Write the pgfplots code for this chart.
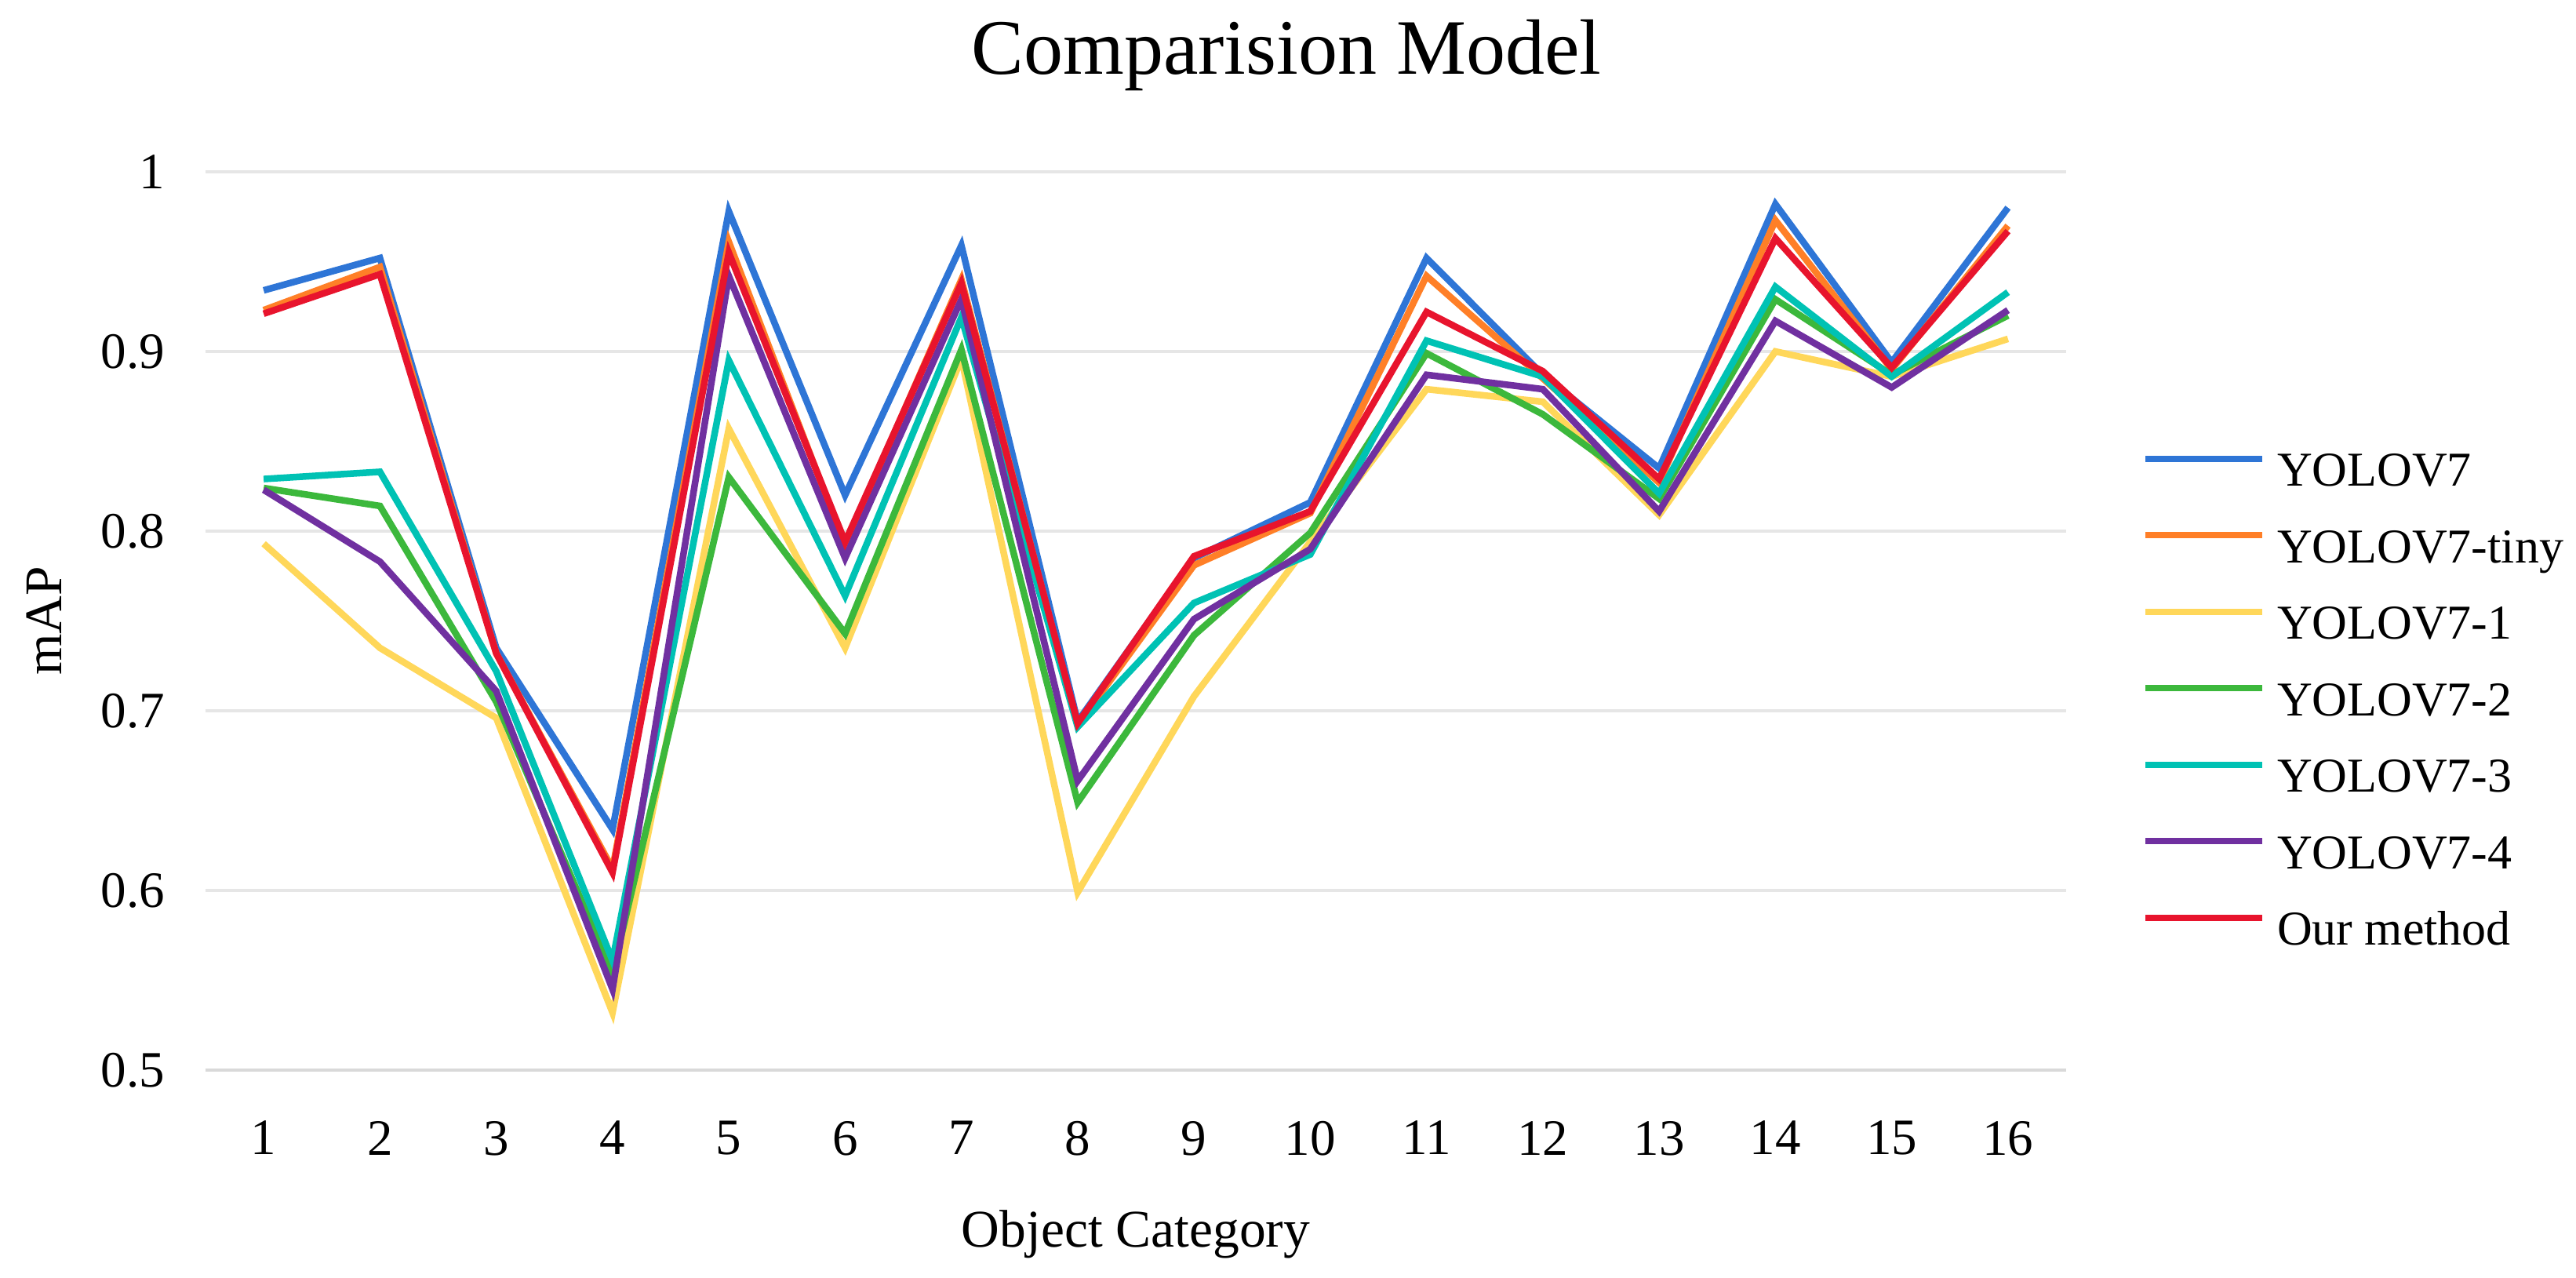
\documentclass[border=0pt]{standalone}
\usepackage{fontspec}
\setmainfont{Liberation Serif}
\usepackage{pgfplots}
\pgfplotsset{compat=1.18}
\usepackage{pgfplotstable}

\definecolor{cBlue}{HTML}{2E75D6}
\definecolor{cOrange}{HTML}{FF7F27}
\definecolor{cYellow}{HTML}{FFD75A}
\definecolor{cGreen}{HTML}{3CB83C}
\definecolor{cCyan}{HTML}{00C2B4}
\definecolor{cPurple}{HTML}{7030A0}
\definecolor{cRed}{HTML}{E8142D}
\definecolor{gridgray}{HTML}{E6E6E6}
\definecolor{axisgray}{HTML}{D9D9D9}

% mAP per object category
\pgfplotstableread{
cat  v7     tiny   v1     v2     v3     v4     ours
1    0.934  0.923  0.793  0.824  0.829  0.823  0.921
2    0.952  0.947  0.735  0.814  0.833  0.783  0.943
3    0.735  0.732  0.696  0.705  0.722  0.711  0.732
4    0.634  0.612  0.532  0.554  0.561  0.545  0.610
5    0.978  0.961  0.857  0.830  0.895  0.942  0.955
6    0.820  0.792  0.735  0.743  0.764  0.785  0.794
7    0.959  0.940  0.896  0.901  0.919  0.929  0.938
8    0.694  0.692  0.599  0.649  0.691  0.661  0.693
9    0.785  0.781  0.708  0.742  0.760  0.751  0.786
10   0.816  0.810  0.794  0.799  0.787  0.790  0.811
11   0.952  0.942  0.879  0.899  0.906  0.887  0.922
12   0.887  0.885  0.872  0.865  0.886  0.879  0.889
13   0.835  0.827  0.809  0.818  0.821  0.811  0.829
14   0.982  0.973  0.900  0.929  0.936  0.917  0.963
15   0.894  0.890  0.886  0.887  0.886  0.880  0.891
16   0.980  0.970  0.907  0.920  0.933  0.923  0.967
}\maptable

\newcommand{\smallfont}{\fontsize{13bp}{15bp}\selectfont}
\newcommand{\legfont}{\fontsize{12.4bp}{15bp}\selectfont}

\begin{document}
\begin{tikzpicture}
\useasboundingbox (-52.4bp,-53bp) rectangle (604.4bp,272.8bp);
\begin{axis}[
    at={(0,0)}, anchor=south west,
    scale only axis,
    width=474.4bp, height=229bp,
    xmin=0.5, xmax=16.5,
    ymin=0.5, ymax=1,
    xtick={1,...,16},
    ytick={0.5,0.6,0.7,0.8,0.9,1},
    /pgf/number format/assume math mode=true,
    major tick length=0pt,
    tick style={draw=none},
    axis lines*=left,
    x axis line style={draw=axisgray, line width=0.9bp},
    y axis line style={draw=none},
    ymajorgrids,
    grid style={draw=gridgray, line width=0.9bp},
    ticklabel style={font=\smallfont},
    xticklabel style={anchor=north, inner sep=0pt, yshift=-12.8bp},
    yticklabel style={anchor=east, inner sep=0pt, xshift=-10.2bp},
    xlabel={Object Category},
    xlabel style={font=\fontsize{13.5bp}{16bp}\selectfont, at={(axis description cs:0.5,-0.19738)}, anchor=base, inner sep=0pt},
    ylabel={mAP},
    ylabel style={font=\fontsize{13.5bp}{16bp}\selectfont, at={(axis description cs:-0.08685,0.5)}, anchor=center, inner sep=0pt},
    legend style={at={(axis description cs:1.04089,0.68952)}, anchor=north west,
        draw=none, fill=none, inner sep=0pt, outer sep=0pt,
        row sep=7.5bp, column sep=3bp, font=\legfont,
        nodes={inner sep=0pt, text height=9bp, text depth=3bp}},
    legend cell align=left,
    legend image code/.code={\draw[#1, line width=1.6bp] (0bp,4bp) -- (29.8bp,4bp);},
    every axis plot/.append style={line width=1.7bp, no markers},
]
\addplot[cBlue]   table[x=cat, y=v7]   {\maptable};
\addplot[cOrange] table[x=cat, y=tiny] {\maptable};
\addplot[cYellow] table[x=cat, y=v1]   {\maptable};
\addplot[cGreen]  table[x=cat, y=v2]   {\maptable};
\addplot[cCyan]   table[x=cat, y=v3]   {\maptable};
\addplot[cPurple] table[x=cat, y=v4]   {\maptable};
\addplot[cRed]    table[x=cat, y=ours] {\maptable};
\legend{YOLOV7, YOLOV7-tiny, YOLOV7-1, YOLOV7-2, YOLOV7-3, YOLOV7-4, Our method}
\end{axis}
\node[font=\fontsize{20bp}{24bp}\selectfont, anchor=base, inner sep=0pt] at (275.6bp,253.8bp) {Comparision Model};
\end{tikzpicture}
\end{document}
